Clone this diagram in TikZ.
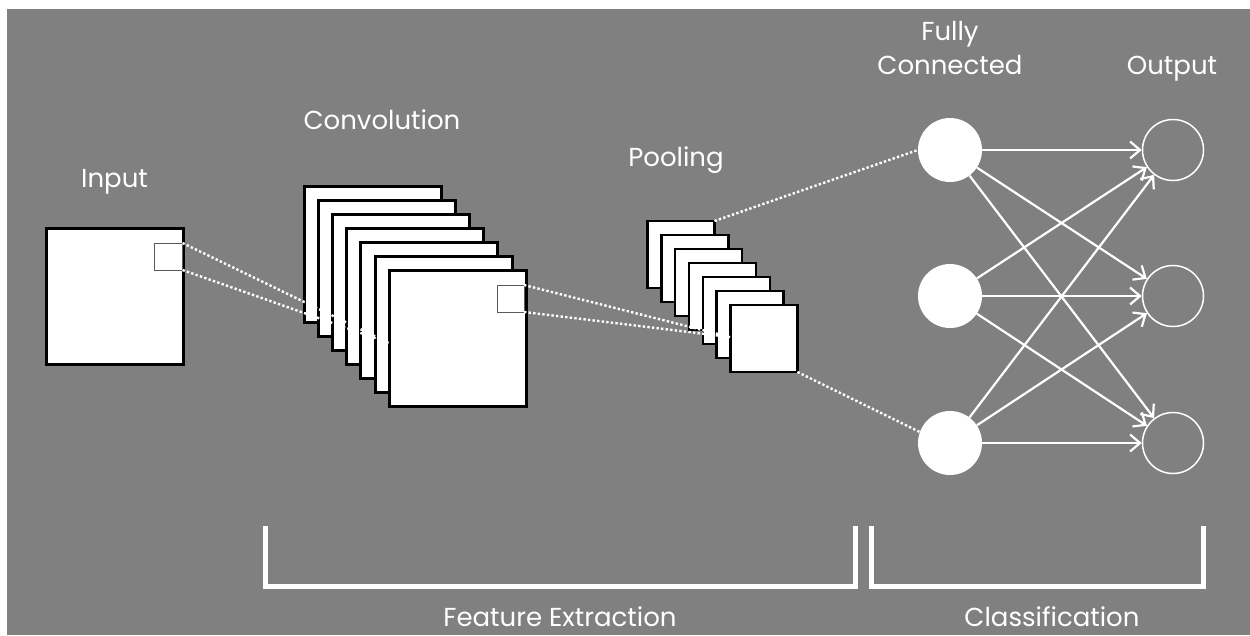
\documentclass[tikz,border=0pt]{standalone}
\usepackage{fontspec}
\setmainfont{Poppins}
\usetikzlibrary{arrows.meta,calc}
\definecolor{panel}{RGB}{128,128,128}
\definecolor{winedge}{RGB}{90,90,90}
\begin{document}
\begin{tikzpicture}[x=1pt,y=-1pt,
  lbl/.style={text=white,font=\fontsize{26}{30}\selectfont,anchor=base,inner sep=0pt},
  sheet/.style={draw=black,line width=3pt,fill=white,minimum width=137pt,minimum height=136pt,inner sep=0pt,outer sep=0pt},
  psheet/.style={draw=black,line width=2.5pt,fill=white,minimum width=67pt,minimum height=67pt,inner sep=0pt,outer sep=0pt},
  window/.style={draw=winedge,line width=1pt,fill=white,inner sep=0pt,outer sep=0pt},
  probe/.style={draw=white,line width=2.4pt,dash pattern=on 2.4pt off 2.2pt},
  fcnode/.style={circle,fill=white,minimum size=64pt,inner sep=0pt},
  outnode/.style={circle,draw=white,line width=1.5pt,minimum size=61pt,inner sep=0pt},
  link/.style={draw=white,line width=2.2pt,-{Straight Barb[length=10pt,width=17pt,line width=2.2pt]}},
  brace/.style={draw=white,line width=5pt}]

% canvas
\useasboundingbox (0,0) rectangle (1250,635);
\fill[white] (0,0) rectangle (1250,635);
\fill[panel] (7,9) rectangle (1250,635);

% input image with its receptive window
\node[sheet] (inp) at (114.5,296.5) {};
\node[window,minimum width=28pt,minimum height=27pt] (inwin) at (168.5,256.5) {};

% stack of convolution feature maps
\foreach \i in {0,...,6}
  \node[sheet] (cv\i) at ({373+14.1*\i},{254.5+14*\i}) {};
\node[window,minimum width=27pt,minimum height=27pt] (cvwin) at (510.5,298.5) {};

% stack of pooled maps
\foreach \i in {0,...,6}
  \node[psheet] (pl\i) at ({681+13.83*\i},{254.5+14*\i}) {};

% fully connected layer and outputs
\node[fcnode] (fc1) at (950,150) {};
\node[fcnode] (fc2) at (950,296) {};
\node[fcnode] (fc3) at (950,443) {};
\node[outnode] (out1) at (1173,150) {};
\node[outnode] (out2) at (1173,296) {};
\node[outnode] (out3) at (1173,443) {};

% projection lines
\coordinate (cfocus) at (389,343);
\coordinate (pfocus) at (730,337);
\draw[probe] (inwin.north east) -- (cfocus);
\draw[probe] (inwin.south east) -- (cfocus);
\draw[probe] (cvwin.north east) -- (pfocus);
\draw[probe] (cvwin.south east) -- (pfocus);
\draw[probe] (pl0.north east) -- (fc1.west);
\draw[probe] (pl6.south east) -- (fc3.160);

% dense connections
\foreach \a in {1,2,3}
  \foreach \b in {1,2,3}
    \draw[link] (fc\a) -- (out\b);

% labels
\node[lbl] (tin) at (114.5,187) {Input};
\node[lbl] (tconv) at (382,129) {Convolution};
\node[lbl] (tpool) at (676,166) {Pooling};
\node[lbl] (tfully) at (950,40) {Fully};
\node[lbl] (tconn) at (950,74) {Connected};
\node[lbl] (tout) at (1172,74) {Output};

% stage brackets
\draw[brace] (265,526) -- (265,586) -- (855.5,586) -- (855.5,526);
\draw[brace] (871.5,526) -- (871.5,586) -- (1203,586) -- (1203,526);
\node[lbl] (tfeat) at (560,626) {Feature Extraction};
\node[lbl] (tcls) at (1052,626) {Classification};
\end{tikzpicture}
\end{document}
